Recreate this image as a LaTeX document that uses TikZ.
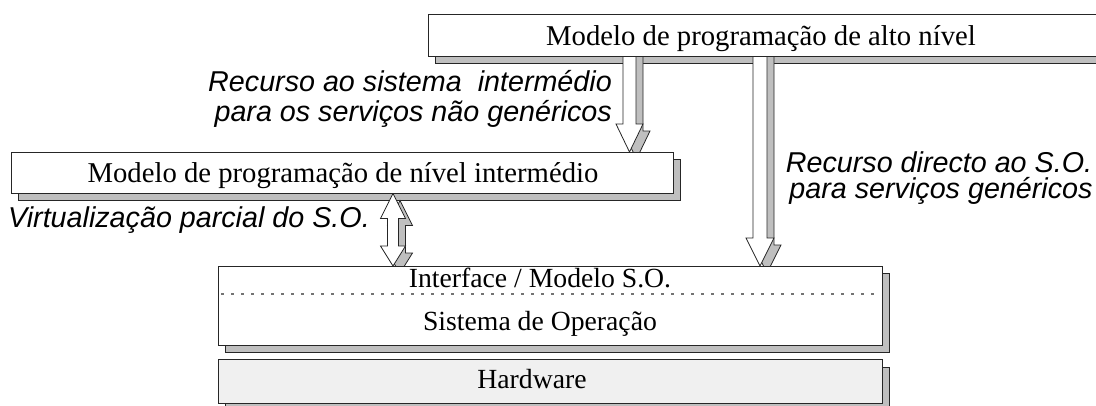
\documentclass[tikz,border=0pt]{standalone}
\usepackage{fontspec}
\setmainfont{Liberation Serif}
\setsansfont{Liberation Sans}
\usetikzlibrary{calc}

% block arrow pointing down: from, to (tip), shaft half width, head half width, head length, style
\newcommand\blockarrow[6]{%
  \draw[#6] let \p1=(#1), \p2=(#2) in
    (\x1-#3pt,\y1) -- (\x1-#3pt,\y2+#5pt) -- (\x1-#4pt,\y2+#5pt) -- (\x1,\y2)
    -- (\x1+#4pt,\y2+#5pt) -- (\x1+#3pt,\y2+#5pt) -- (\x1+#3pt,\y1) -- cycle;}

% double-headed block arrow: top tip, bottom tip, shaft half width, head half width,
% top head length, bottom head length, style
\newcommand\dblarrow[7]{%
  \draw[#7] let \p1=(#1), \p2=(#2) in
    (\x1,\y1) -- (\x1+#4pt,\y1-#5pt) -- (\x1+#3pt,\y1-#5pt) -- (\x1+#3pt,\y2+#6pt)
    -- (\x1+#4pt,\y2+#6pt) -- (\x1,\y2) -- (\x1-#4pt,\y2+#6pt) -- (\x1-#3pt,\y2+#6pt)
    -- (\x1-#3pt,\y1-#5pt) -- (\x1-#4pt,\y1-#5pt) -- cycle;}

\tikzset{
  box/.style={draw=black!85, line width=0.9pt, fill=white, inner sep=0, anchor=north west},
  hwbox/.style={box, fill=black!6},
  shadowbox/.style={draw=black!85, line width=0.9pt, fill=black!25, inner sep=0, anchor=north west},
  arrowbody/.style={draw=black!85, line width=0.8pt, fill=white},
  arrowshadow/.style={draw=black!85, line width=0.8pt, fill=black!25,
    transform canvas={shift={(7pt,-7pt)}}},
  boxtext/.style={font=\fontsize{28.7}{32}\selectfont, anchor=base, inner sep=0},
  lowtext/.style={font=\fontsize{27.7}{32}\selectfont, anchor=base, inner sep=0},
  note/.style={font=\sffamily\itshape\fontsize{28.7}{32}\selectfont, anchor=base, inner sep=0},
  sepline/.style={draw=black!55, line width=1.2pt, dash pattern=on 3pt off 7pt},
}

\begin{document}
\begin{tikzpicture}[x=1pt,y=-1pt]
\useasboundingbox (0,0) rectangle (1096,405);
\clip (0,0) rectangle (1096,405);

% drop shadows of the layers
\node[shadowbox, minimum width=690, minimum height=42] (topsh) at (435,21) {};
\node[shadowbox, minimum width=662, minimum height=41] (midsh) at (18,159) {};
\node[shadowbox, minimum width=664, minimum height=79] (ossh) at (225,273) {};
\node[shadowbox, minimum width=664, minimum height=44] (hwsh) at (225,367) {};

% layer outlines used as arrow anchors
\path (428,14) node[anchor=north west, minimum width=690, minimum height=42, inner sep=0] (top) {};
\path (11,152) node[anchor=north west, minimum width=662, minimum height=41, inner sep=0] (mid) {};
\path (218,266) node[anchor=north west, minimum width=664, minimum height=79, inner sep=0] (os) {};

\coordinate (xa) at (629.5,0);
\coordinate (xb) at (760,0);
\coordinate (xc) at (393,0);

% arrows with their shadows
\blockarrow{top.center -| xa}{mid.north -| xa}{6.5}{13.5}{28}{arrowshadow}
\blockarrow{top.center -| xa}{mid.north -| xa}{6.5}{13.5}{28}{arrowbody}
\blockarrow{top.center -| xb}{os.north -| xb}{7}{14}{28}{arrowshadow}
\blockarrow{top.center -| xb}{os.north -| xb}{7}{14}{28}{arrowbody}
\dblarrow{mid.south -| xc}{os.north -| xc}{5.5}{12.5}{25}{20}{arrowshadow}
\dblarrow{mid.south -| xc}{os.north -| xc}{5.5}{12.5}{25}{20}{arrowbody}

% layers
\node[box, minimum width=690, minimum height=42] (topbox) at (428,14) {};
\node[box, minimum width=662, minimum height=41] (midbox) at (11,152) {};
\node[box, minimum width=664, minimum height=79] (osbox) at (218,266) {};
\node[hwbox, minimum width=664, minimum height=44] (hwbox) at (218,359) {};

\coordinate (sepy) at (0,294);
\draw[sepline] ($(osbox.west |- sepy)+(3,0)$) -- ($(osbox.east |- sepy)+(-3,0)$);

% layer titles
\node[boxtext] (ttop) at (761,45) {Modelo de programação de alto nível};
\node[boxtext] (tmid) at (343,182) {Modelo de programação de nível intermédio};
\node[lowtext] (tif) at (540,287) {Interface / Modelo S.O.};
\node[lowtext] (tos) at (540,330) {Sistema de Operação};
\node[lowtext] (thw) at (532,388) {Hardware};

% annotations
\node[note, anchor=base east] (n1a) at (612,91) {Recurso ao sistema\ \ intermédio};
\node[note, anchor=base east] (n1b) at (612,121) {para os serviços não genéricos};
\node[note] (n2a) at (939,172) {Recurso directo ao S.O.};
\node[note] (n2b) at (941,198) {para serviços genéricos};
\node[note, anchor=base west] (n3) at (8,227) {Virtualização parcial do S.O.};
\end{tikzpicture}
\end{document}
